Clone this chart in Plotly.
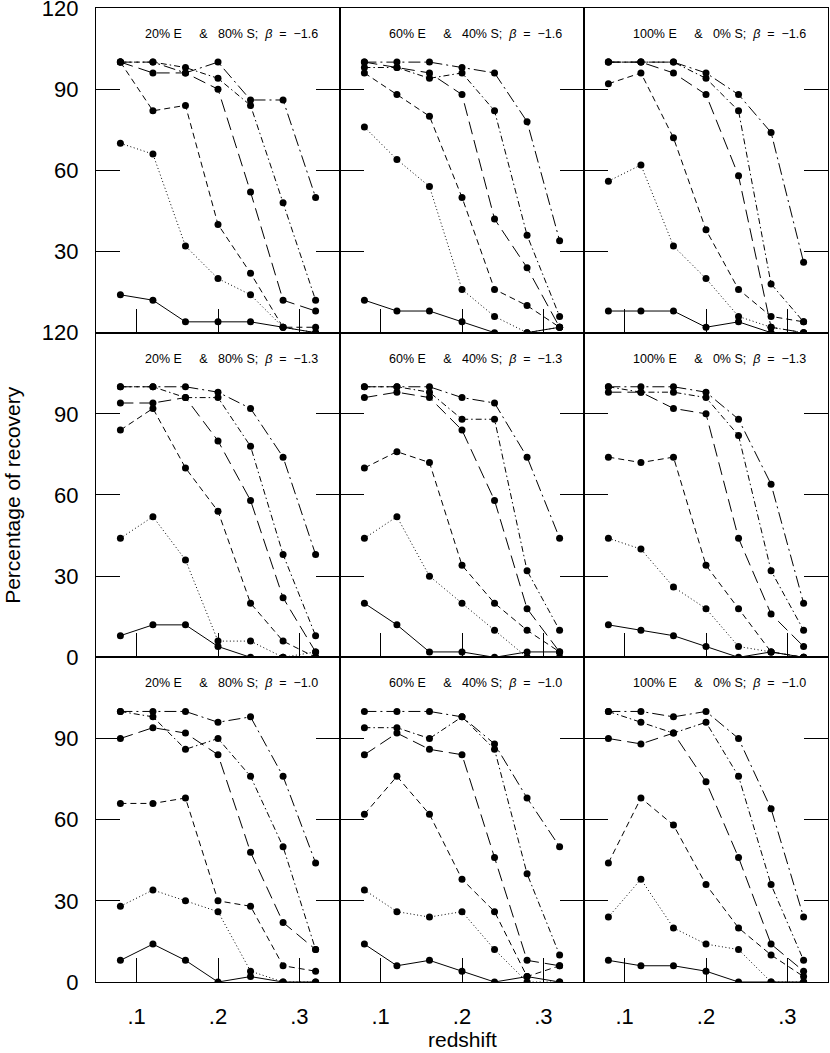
import plotly.graph_objects as go
from plotly.subplots import make_subplots

# redshift bins shared by every panel
redshift = [0.08, 0.12, 0.16, 0.20, 0.24, 0.28, 0.32]

# recovery (%) per panel; curves in order:
# solid, dotted, short dash, long dash, dash-dot, long dash-dot
e20_b16 = [
    [14, 12, 4, 4, 4, 2, 0],
    [70, 66, 32, 20, 14, 2, 0],
    [100, 82, 84, 40, 22, 2, 2],
    [100, 96, 96, 90, 52, 12, 8],
    [100, 100, 98, 94, 84, 48, 12],
    [100, 100, 96, 100, 86, 86, 50],
]
e60_b16 = [
    [12, 8, 8, 4, 0, 0, 2],
    [76, 64, 54, 16, 6, 0, 2],
    [96, 88, 80, 50, 16, 10, 2],
    [100, 98, 96, 88, 42, 24, 2],
    [98, 98, 94, 96, 82, 36, 6],
    [100, 100, 100, 98, 96, 78, 34],
]
e100_b16 = [
    [8, 8, 8, 2, 4, 0, 0],
    [56, 62, 32, 20, 6, 2, 0],
    [92, 96, 72, 38, 16, 6, 4],
    [100, 100, 96, 88, 58, 2, 0],
    [100, 100, 100, 94, 82, 18, 4],
    [100, 100, 100, 96, 88, 74, 26],
]
e20_b13 = [
    [8, 12, 12, 4, 0, 0, 0],
    [44, 52, 36, 6, 6, 0, 2],
    [84, 92, 70, 54, 20, 6, 0],
    [94, 94, 96, 80, 58, 22, 2],
    [100, 100, 96, 96, 78, 38, 8],
    [100, 100, 100, 98, 92, 74, 38],
]
e60_b13 = [
    [20, 12, 2, 2, 0, 2, 2],
    [44, 52, 30, 20, 10, 0, 0],
    [70, 76, 72, 34, 20, 10, 2],
    [96, 98, 96, 84, 58, 18, 2],
    [100, 100, 98, 88, 88, 32, 10],
    [100, 100, 100, 96, 94, 74, 44],
]
e100_b13 = [
    [12, 10, 8, 4, 0, 2, 0],
    [44, 40, 26, 18, 4, 2, 0],
    [74, 72, 74, 34, 18, 2, 0],
    [98, 98, 92, 90, 44, 16, 4],
    [100, 98, 98, 96, 82, 32, 10],
    [100, 100, 100, 98, 88, 64, 20],
]
e20_b10 = [
    [8, 14, 8, 0, 2, 0, 0],
    [28, 34, 30, 26, 4, 0, 0],
    [66, 66, 68, 30, 28, 6, 4],
    [90, 94, 92, 84, 48, 22, 12],
    [100, 98, 86, 90, 76, 50, 12],
    [100, 100, 100, 96, 98, 76, 44],
]
e60_b10 = [
    [14, 6, 8, 4, 0, 2, 0],
    [34, 26, 24, 26, 12, 0, 0],
    [62, 76, 62, 38, 26, 2, 6],
    [84, 92, 86, 84, 46, 8, 6],
    [94, 94, 90, 98, 86, 40, 10],
    [100, 100, 100, 98, 88, 68, 50],
]
e100_b10 = [
    [8, 6, 6, 4, 0, 0, 0],
    [24, 38, 20, 14, 12, 0, 0],
    [44, 68, 58, 36, 20, 10, 2],
    [90, 88, 92, 74, 46, 14, 4],
    [100, 96, 92, 96, 76, 36, 8],
    [100, 100, 98, 100, 90, 64, 24],
]

frac_e = [20, 60, 100]
frac_s = [80, 40, 0]
betas = ["\u22121.6", "\u22121.3", "\u22121.0"]
panels = [
    [e20_b16, e60_b16, e100_b16],
    [e20_b13, e60_b13, e100_b13],
    [e20_b10, e60_b10, e100_b10],
]
row_ticks = [[30, 60, 90, 120], [0, 30, 60, 90, 120], [0, 30, 60, 90]]

dashes = ["solid", "1px,2.5px", "6px,4px", "13px,6px",
          "6px,3px,1.5px,3px", "12px,4px,2px,4px"]

FONT = "Liberation Sans, Arial, sans-serif"
NB = "\u00a0"

fig = make_subplots(rows=3, cols=3, horizontal_spacing=0, vertical_spacing=0)

for r in range(3):
    for c in range(3):
        for k, vals in enumerate(panels[r][c]):
            fig.add_trace(
                go.Scatter(
                    x=redshift, y=vals,
                    mode="lines+markers",
                    line=dict(color="black", width=1, dash=dashes[k]),
                    marker=dict(size=7, color="black"),
                    showlegend=False,
                    hoverinfo="skip",
                ),
                row=r + 1, col=c + 1,
            )

        fig.update_xaxes(
            range=[0.05, 0.35],
            tickvals=[0.1, 0.2, 0.3], ticktext=[".1", ".2", ".3"],
            ticks="inside", ticklen=24, tickwidth=1, tickcolor="black",
            showline=True, linecolor="black", linewidth=1.2, mirror=True,
            showgrid=False, zeroline=False, automargin=False,
            showticklabels=(r == 2), ticklabelstandoff=14,
            ticklabeloverflow="allow",
            tickfont=dict(family=FONT, size=22, color="black"),
            row=r + 1, col=c + 1,
        )
        fig.update_yaxes(
            range=[0, 120],
            tickvals=row_ticks[r],
            ticks="inside", ticklen=24, tickwidth=1, tickcolor="black",
            showline=True, linecolor="black", linewidth=1.2, mirror="ticks",
            showgrid=False, zeroline=False, automargin=False,
            showticklabels=(c == 0), ticklabelstandoff=12,
            ticklabeloverflow="allow",
            tickfont=dict(family=FONT, size=22, color="black"),
            row=r + 1, col=c + 1,
        )

        idx = r * 3 + c + 1
        label = (f"{frac_e[c]}%{NB}E{NB * 5}&{NB * 3}{frac_s[c]}%{NB}S;{NB * 2}"
                 f"<i>\u03b2</i>{NB * 2}={NB * 2}{betas[r]}")
        fig.add_annotation(
            text=label,
            xref=f"x{idx if idx > 1 else ''} domain",
            yref=f"y{idx if idx > 1 else ''} domain",
            x=0.918, y=0.92, xanchor="right", yanchor="middle",
            showarrow=False,
            font=dict(family=FONT, size=12.5, color="black"),
        )

# axis titles
fig.add_annotation(
    text="Percentage of recovery", xref="paper", yref="paper",
    x=-0.115, y=0.5, xanchor="center", yanchor="middle", textangle=-90,
    showarrow=False, font=dict(family=FONT, size=21, color="black"),
)
fig.add_annotation(
    text="redshift", xref="paper", yref="paper",
    x=0.5, y=-0.0595, xanchor="center", yanchor="middle",
    showarrow=False, font=dict(family=FONT, size=21, color="black"),
)

fig.update_layout(
    width=830, height=1053,
    margin=dict(l=96, r=2, t=8, b=71, autoexpand=False),
    plot_bgcolor="white", paper_bgcolor="white",
    font=dict(family=FONT, color="black"),
)

# drop the default page margin so the figure sits at the window corner
fig.write_html(
    "out.html",
    config={"displayModeBar": False},
    post_script="document.body.style.margin = '0';",
)
